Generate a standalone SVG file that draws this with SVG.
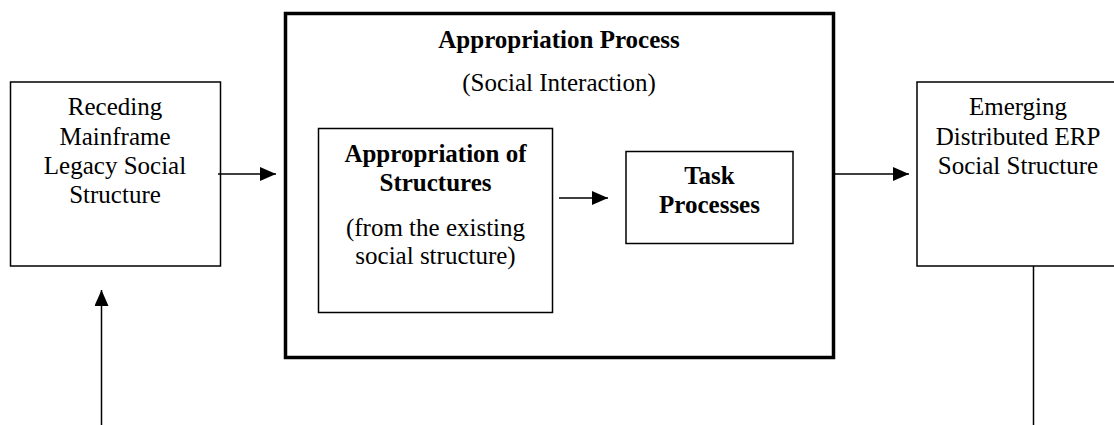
<svg xmlns="http://www.w3.org/2000/svg" width="1114" height="425" viewBox="0 0 1114 425">
  <style>
    .box { fill: #fff; stroke: #000; stroke-width: 1.5; }
    .frame { fill: none; stroke: #000; stroke-width: 3.5; }
    .lbl { font-family: "Liberation Serif", "Times New Roman", serif; font-size: 25px; fill: #000; text-anchor: middle; }
    .b { font-weight: bold; }
    .conn { stroke: #000; stroke-width: 1.5; fill: none; }
  </style>
  <defs>
    <marker id="arrow" markerUnits="userSpaceOnUse" markerWidth="16" markerHeight="14" refX="16" refY="7" orient="auto">
      <path d="M0,0 L16,7 L0,14 Z" fill="#000"/>
    </marker>
  </defs>
  <rect width="1114" height="425" fill="#fff"/>

  <g id="receding">
    <rect class="box" x="10.5" y="82" width="210" height="184"/>
    <text class="lbl" x="115" y="115">Receding</text>
    <text class="lbl" x="115" y="144.5">Mainframe</text>
    <text class="lbl" x="115" y="174">Legacy Social</text>
    <text class="lbl" x="115" y="203">Structure</text>
  </g>

  <g id="appropriation-process">
    <rect class="frame" x="285.5" y="13.5" width="548" height="344"/>
    <text class="lbl b" x="559" y="47.5">Appropriation Process</text>
    <text class="lbl" x="559" y="91">(Social Interaction)</text>
  </g>

  <g id="appropriation-of-structures">
    <rect class="box" x="318.5" y="128.5" width="234" height="184"/>
    <text class="lbl b" x="435.5" y="162">Appropriation of</text>
    <text class="lbl b" x="435.5" y="191">Structures</text>
    <text class="lbl" x="435.5" y="236">(from the existing</text>
    <text class="lbl" x="435.5" y="264">social structure)</text>
  </g>

  <g id="task-processes">
    <rect class="box" x="626" y="151.5" width="167" height="92"/>
    <text class="lbl b" x="709.5" y="184">Task</text>
    <text class="lbl b" x="709.5" y="213">Processes</text>
  </g>

  <g id="emerging">
    <rect class="box" x="917" y="82" width="210" height="184"/>
    <text class="lbl" x="1018" y="115">Emerging</text>
    <text class="lbl" x="1018" y="144.5">Distributed ERP</text>
    <text class="lbl" x="1018" y="174">Social Structure</text>
  </g>

  <g id="connectors">
    <line class="conn" x1="218" y1="174" x2="276" y2="174" marker-end="url(#arrow)"/>
    <line class="conn" x1="559" y1="198" x2="608" y2="198" marker-end="url(#arrow)"/>
    <line class="conn" x1="835" y1="174" x2="909" y2="174" marker-end="url(#arrow)"/>
    <line class="conn" x1="101.5" y1="425" x2="101.5" y2="290" marker-end="url(#arrow)"/>
    <line class="conn" x1="1033.5" y1="266" x2="1033.5" y2="425"/>
  </g>
</svg>
